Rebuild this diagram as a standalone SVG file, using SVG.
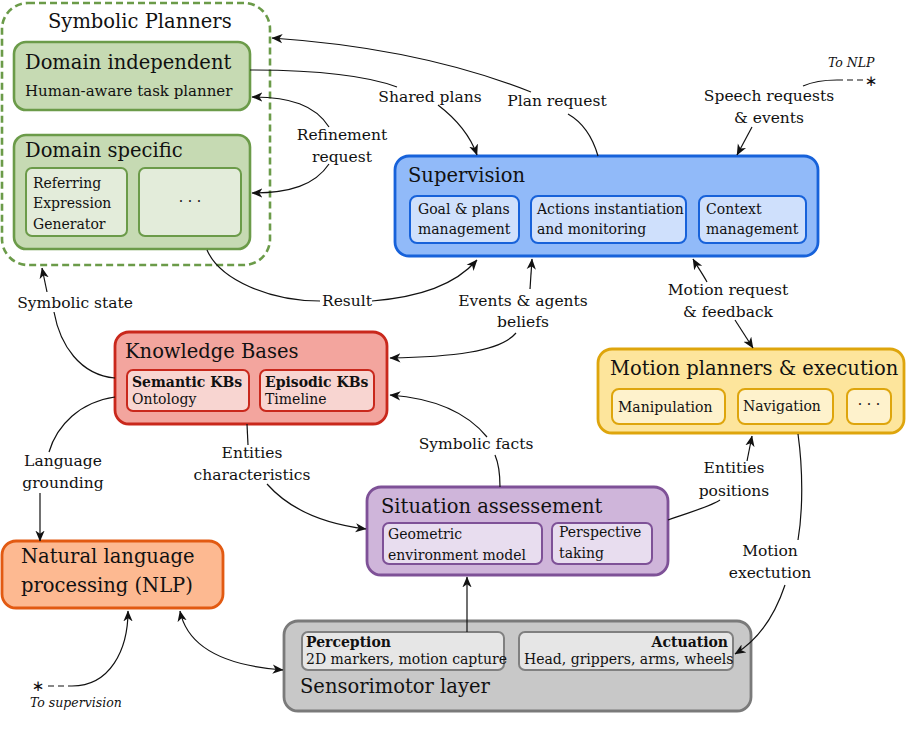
<svg xmlns="http://www.w3.org/2000/svg" width="906" height="736" viewBox="0 0 906 736">
<style>
text{font-family:"DejaVu Serif","Liberation Serif",serif;fill:#111}
.t{font-size:19.5px}
.b{font-size:15px}
.s{font-size:14px}
.bd{font-size:14px;font-weight:bold}
.l{font-size:15.5px;text-anchor:middle}
.it{font-size:12.5px;font-style:italic}
.c{text-anchor:middle}
.ast{font-family:"DejaVu Sans",sans-serif;font-size:15px;text-anchor:middle}
.gO{fill:#c6dab3;stroke:#6b9b49;stroke-width:2.6}
.gI{fill:#e3ecda;stroke:#6b9b49;stroke-width:2}
.bO{fill:#91baf9;stroke:#1762da;stroke-width:2.8}
.bI{fill:#cfe0fc;stroke:#1762da;stroke-width:2}
.rO{fill:#f3a59e;stroke:#c9281c;stroke-width:2.8}
.rI{fill:#f8d5d1;stroke:#c9281c;stroke-width:2}
.yO{fill:#fde59c;stroke:#dea50c;stroke-width:2.8}
.yI{fill:#fef2cc;stroke:#dea50c;stroke-width:2}
.pO{fill:#cfb5da;stroke:#7e5197;stroke-width:2.8}
.pI{fill:#e8ddef;stroke:#7e5197;stroke-width:2}
.kO{fill:#c8c8c8;stroke:#7a7a7a;stroke-width:2.8}
.kI{fill:#e6e6e6;stroke:#808080;stroke-width:2}
.oO{fill:#fdb991;stroke:#e25a12;stroke-width:2.8}
.e{fill:none;stroke:#111;stroke-width:1.2}
.ea{fill:none;stroke:#111;stroke-width:1.2;marker-end:url(#ar)}
.eb{fill:none;stroke:#111;stroke-width:1.2;marker-start:url(#ar);marker-end:url(#ar)}
.d{fill:none;stroke:#111;stroke-width:1.2;stroke-dasharray:6,4}
</style>
<defs>
<marker id="ar" viewBox="0 0 10 10" refX="9.5" refY="5" markerWidth="11" markerHeight="11" markerUnits="userSpaceOnUse" orient="auto-start-reverse">
<path d="M0,0.8 L10,5 L0,9.2 L2.8,5 z" fill="#111"/>
</marker>
</defs>
<rect width="906" height="736" fill="#fff"/>

<g id="symbolic-planners">
<rect x="2" y="3" width="268" height="262" rx="26" fill="none" stroke="#6b9b49" stroke-width="2.6" stroke-dasharray="7,4"/>
<text class="t" x="48" y="28">Symbolic Planners</text>
</g>
<g id="domain-independent">
<rect class="gO" x="14" y="42" width="236" height="68" rx="12"/>
<text class="t" x="25" y="69">Domain independent</text>
<text class="b" x="25" y="96">Human-aware task planner</text>
</g>
<g id="domain-specific">
<rect class="gO" x="14" y="135" width="236" height="114" rx="12"/>
<text class="t" x="25" y="157">Domain specific</text>
<rect class="gI" x="26" y="168" width="101" height="68" rx="6"/>
<text class="s" x="33" y="188">Referring</text>
<text class="s" x="33" y="208">Expression</text>
<text class="s" x="33" y="229">Generator</text>
<rect class="gI" x="139" y="168" width="102" height="68" rx="6"/>
<text class="s c" x="190" y="206">· · ·</text>
</g>

<g id="supervision">
<rect class="bO" x="395" y="156" width="423" height="100" rx="14"/>
<text class="t" x="408" y="182">Supervision</text>
<rect class="bI" x="410" y="196" width="109" height="47" rx="7"/>
<text class="s" x="418" y="214">Goal &amp; plans</text>
<text class="s" x="418" y="234">management</text>
<rect class="bI" x="531" y="196" width="155" height="47" rx="7"/>
<text class="s" x="537" y="214">Actions instantiation</text>
<text class="s" x="537" y="234">and monitoring</text>
<rect class="bI" x="699" y="196" width="107" height="47" rx="7"/>
<text class="s" x="706" y="214">Context</text>
<text class="s" x="706" y="234">management</text>
</g>

<g id="knowledge-bases">
<rect class="rO" x="115" y="332" width="272" height="92" rx="14"/>
<text class="t" x="125" y="358">Knowledge Bases</text>
<rect class="rI" x="127" y="370" width="122" height="41" rx="6"/>
<text class="bd" x="132" y="387">Semantic KBs</text>
<text class="s" x="132" y="404">Ontology</text>
<rect class="rI" x="260" y="370" width="114" height="41" rx="6"/>
<text class="bd" x="265" y="387">Episodic KBs</text>
<text class="s" x="265" y="404">Timeline</text>
</g>

<g id="motion-planners">
<rect class="yO" x="598" y="349" width="306" height="84" rx="14"/>
<text class="t" x="610" y="375">Motion planners &amp; execution</text>
<rect class="yI" x="612" y="389" width="113" height="35" rx="7"/>
<text class="s" x="618" y="412">Manipulation</text>
<rect class="yI" x="738" y="389" width="95" height="35" rx="7"/>
<text class="s" x="743" y="411">Navigation</text>
<rect class="yI" x="847" y="389" width="44" height="35" rx="7"/>
<text class="s c" x="869" y="409">· · ·</text>
</g>

<g id="situation-assessement">
<rect class="pO" x="367" y="487" width="301" height="88" rx="14"/>
<text class="t" x="381" y="513">Situation assessement</text>
<rect class="pI" x="383" y="523" width="159" height="41" rx="6"/>
<text class="s" x="388" y="539">Geometric</text>
<text class="s" x="388" y="560">environment model</text>
<rect class="pI" x="552" y="523" width="100" height="41" rx="6"/>
<text class="s" x="559" y="537">Perspective</text>
<text class="s" x="559" y="558">taking</text>
</g>

<g id="sensorimotor-layer">
<rect class="kO" x="284" y="621" width="467" height="90" rx="14"/>
<rect class="kI" x="302" y="632" width="202" height="38" rx="6"/>
<text class="bd" x="306" y="647">Perception</text>
<text class="s" x="306" y="664" font-size="13.2">2D markers, motion capture</text>
<rect class="kI" x="519" y="632" width="214" height="38" rx="6"/>
<text class="bd" x="728" y="647" text-anchor="end">Actuation</text>
<text class="s" x="524" y="664" font-size="13.2">Head, grippers, arms, wheels</text>
<text class="t" x="300" y="693">Sensorimotor layer</text>
</g>

<g id="nlp">
<rect class="oO" x="2" y="541" width="221" height="67" rx="14"/>
<text class="t" x="21" y="563">Natural language</text>
<text class="t" x="21" y="592">processing (NLP)</text>
</g>

<g id="connectors">
<path class="e" d="M598,156 C592,135 582,122 568,114"/>
<path class="ea" d="M531,92 C450,60 360,44 272,38"/>
<path class="e" d="M250,70 C320,70 370,77 397,87"/>
<path class="ea" d="M438,105 C455,118 470,135 477,155"/>
<path class="ea" d="M329,127 C315,105 290,97 252,97"/>
<path class="ea" d="M329,164 C315,185 290,193 252,193"/>
<path class="d" d="M837,80 L864,80"/>
<path class="e" d="M837,80 C825,80 812,82 803,86"/>
<path class="ea" d="M752,127 L737,155"/>
<path class="e" d="M207,250 C220,280 270,301 320,301"/>
<path class="ea" d="M372,301 C420,297 455,285 477,260"/>
<path class="ea" d="M530,289 L532,259"/>
<path class="ea" d="M516,333 C500,352 450,357 390,358"/>
<path class="ea" d="M707,282 C702,273 697,266 693,259"/>
<path class="ea" d="M735,320 L753,348"/>
<path class="ea" d="M47,292 L42,268"/>
<path class="e" d="M115,378 C80,375 60,345 54,312"/>
<path class="e" d="M115,397 C80,402 57,425 49,452"/>
<path class="ea" d="M40,493 L40,541"/>
<path class="e" d="M247,424 L248,445"/>
<path class="ea" d="M267,484 C290,510 325,524 366,529"/>
<path class="e" d="M500,487 C500,475 498,462 495,455"/>
<path class="ea" d="M487,437 C465,410 430,398 390,395"/>
<path class="e" d="M668,520 C690,512 712,506 720,500"/>
<path class="ea" d="M747,461 L752,436"/>
<path class="e" d="M798,434 C803,470 803,510 798,540"/>
<path class="ea" d="M785,585 C775,615 758,640 735,654"/>
<path class="ea" d="M467,632 L467,577"/>
<path class="eb" d="M180,611 C188,650 230,666 283,670"/>
<path class="d" d="M48,686 L72,686"/>
<path class="ea" d="M72,686 C110,686 128,650 128,611"/>
</g>

<g id="labels">
<text class="l" x="430" y="102">Shared plans</text>
<text class="l" x="557" y="106">Plan request</text>
<text class="l" x="769" y="101">Speech requests</text>
<text class="l" x="769" y="123">&amp; events</text>
<text class="l" x="342" y="140">Refinement</text>
<text class="l" x="342" y="162">request</text>
<text class="l" x="347" y="306">Result</text>
<text class="l" x="523" y="306">Events &amp; agents</text>
<text class="l" x="523" y="327">beliefs</text>
<text class="l" x="728" y="295">Motion request</text>
<text class="l" x="728" y="317">&amp; feedback</text>
<text class="l" x="75" y="308">Symbolic state</text>
<text class="l" x="63" y="466">Language</text>
<text class="l" x="63" y="488">grounding</text>
<text class="l" x="252" y="458">Entities</text>
<text class="l" x="252" y="480">characteristics</text>
<text class="l" x="476" y="449">Symbolic facts</text>
<text class="l" x="734" y="473">Entities</text>
<text class="l" x="734" y="496">positions</text>
<text class="l" x="770" y="556">Motion</text>
<text class="l" x="770" y="578">exectution</text>
</g>

<g id="notes">
<text class="it" x="828" y="67">To NLP</text>
<text class="ast" x="871" y="86">∗</text>
<text class="ast" x="38" y="691">∗</text>
<text class="it" x="30" y="707">To supervision</text>
</g>
</svg>
